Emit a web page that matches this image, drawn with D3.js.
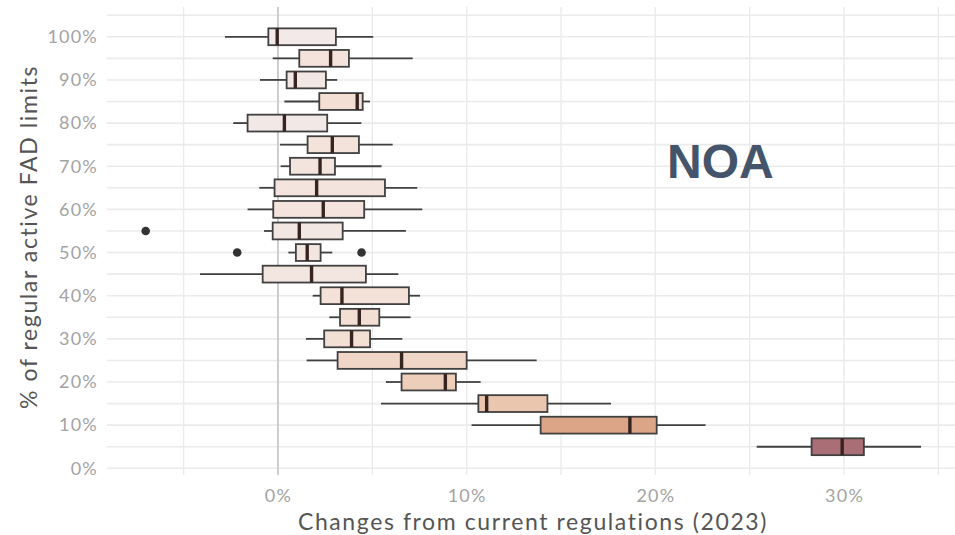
<!DOCTYPE html>
<html>
<head>
<meta charset="utf-8">
<script src="https://cdn.jsdelivr.net/npm/d3@7"></script>
<style>
  body { margin: 0; background: #fff; }
  svg { display: block; }
</style>
</head>
<body>
<div id="chart"></div>
<script>
// FAD limit level (% of regular active limits), one box per level
var levels = [100, 95, 90, 85, 80, 75, 70, 65, 60, 55, 50, 45, 40, 35, 30, 25, 20, 15, 10, 5];
var whiskerLow  = [-2.81, -0.28, -0.95, 0.34, -2.37, 0.11, 0.14, -0.99, -1.61, -0.74, 0.55, -4.13, 1.84, 2.72, 1.48, 1.52, 5.72, 5.46, 10.26, 25.37];
var q1          = [-0.51, 1.13, 0.46, 2.19, -1.61, 1.57, 0.64, -0.18, -0.25, -0.28, 0.95, -0.81, 2.26, 3.29, 2.45, 3.16, 6.55, 10.62, 13.92, 28.28];
var medians     = [-0.04, 2.79, 0.92, 4.20, 0.34, 2.88, 2.23, 2.05, 2.40, 1.13, 1.55, 1.78, 3.39, 4.31, 3.90, 6.55, 8.87, 11.06, 18.65, 29.90];
var q3          = [3.07, 3.76, 2.54, 4.49, 2.61, 4.29, 3.02, 5.67, 4.57, 3.43, 2.26, 4.66, 6.94, 5.37, 4.88, 10.00, 9.43, 14.28, 20.07, 31.05];
var whiskerHigh = [5.05, 7.14, 3.14, 4.88, 4.42, 6.08, 5.49, 7.38, 7.65, 6.78, 2.88, 6.38, 7.53, 7.03, 6.59, 13.71, 10.74, 17.65, 22.66, 34.08];
var outlierLevels = [55, 50, 50];
var outlierValues = [-7.01, -2.16, 4.43];

var xMajor = [0, 10, 20, 30];
var xMinor = [-5, 5, 15, 25, 35];
var yLabels = [0, 10, 20, 30, 40, 50, 60, 70, 80, 90, 100];
var yGrid = d3.range(0, 106, 5);

var svgWidth = 955;
var svgHeight = 535;

var margin = { top: 7, right: -7, bottom: 60, left: 107 };
var width = svgWidth - margin.left - margin.right;
var height = svgHeight - margin.top - margin.bottom;

var rows = levels.map(function(lv, i) {
  return { level: lv, lo: whiskerLow[i], q1: q1[i], med: medians[i], q3: q3[i], hi: whiskerHigh[i] };
});

var svg = d3.select("#chart")
  .append("svg")
  .attr("width", svgWidth)
  .attr("height", svgHeight);

var chart = svg.append("g")
  .attr("transform", `translate(${margin.left}, ${margin.top})`);

var x = d3.scaleLinear().domain([-9.06, 36.25]).range([0, width]);
var y = d3.scaleLinear().domain([-1.55, 106.9]).range([height, 0]);

var fill = d3.scaleLinear()
  .domain([0, 3, 11, 19, 30])
  .range(["#f2e9e8", "#f4e3da", "#ebc6af", "#dca386", "#a96e76"]);

// gridlines
chart.append("g")
  .selectAll("line.hgrid")
  .data(yGrid)
  .enter().append("line")
  .attr("x1", 0).attr("x2", width)
  .attr("y1", d => y(d)).attr("y2", d => y(d))
  .attr("stroke", "#ebebeb")
  .attr("stroke-width", 1.6);

chart.append("g")
  .selectAll("line.vgrid")
  .data(xMinor.concat(xMajor))
  .enter().append("line")
  .attr("x1", d => x(d)).attr("x2", d => x(d))
  .attr("y1", 0).attr("y2", height)
  .attr("stroke", "#ebebeb")
  .attr("stroke-width", 1.4);

// reference line at 0
chart.append("line")
  .attr("x1", x(0)).attr("x2", x(0))
  .attr("y1", 0).attr("y2", height)
  .attr("stroke", "#c4c4c4")
  .attr("stroke-width", 1.6);

// axes (labels only)
var bottomAxis = d3.axisBottom(x).tickValues(xMajor).tickSize(0).tickPadding(14)
  .tickFormat(d => d + "%");
var leftAxis = d3.axisLeft(y).tickValues(yLabels).tickSize(0).tickPadding(9)
  .tickFormat(d => d + "%");

var xa = chart.append("g")
  .attr("transform", `translate(0, ${height})`)
  .call(bottomAxis);
var ya = chart.append("g").call(leftAxis);

[xa, ya].forEach(function(g) {
  g.select(".domain").remove();
  g.selectAll("text")
    .attr("fill", "#a3a3a3")
    .style("font-family", "Lato, 'Open Sans', sans-serif")
    .style("font-size", "18px")
    .style("letter-spacing", "1.2px");
});

// boxplots
var half = 1.95;
var boxes = chart.selectAll("g.box")
  .data(rows)
  .enter().append("g")
  .attr("class", "box");

boxes.append("line")
  .attr("x1", d => x(d.lo)).attr("x2", d => x(d.q1))
  .attr("y1", d => y(d.level)).attr("y2", d => y(d.level))
  .attr("stroke", "#404040").attr("stroke-width", 1.8);

boxes.append("line")
  .attr("x1", d => x(d.q3)).attr("x2", d => x(d.hi))
  .attr("y1", d => y(d.level)).attr("y2", d => y(d.level))
  .attr("stroke", "#404040").attr("stroke-width", 1.8);

boxes.append("rect")
  .attr("x", d => x(d.q1))
  .attr("y", d => y(d.level + half))
  .attr("width", d => x(d.q3) - x(d.q1))
  .attr("height", d => y(d.level - half) - y(d.level + half))
  .attr("fill", d => fill(d.med))
  .attr("stroke", "#404040")
  .attr("stroke-width", 1.8);

boxes.append("line")
  .attr("x1", d => x(d.med)).attr("x2", d => x(d.med))
  .attr("y1", d => y(d.level + half)).attr("y2", d => y(d.level - half))
  .attr("stroke", "#35241f").attr("stroke-width", 3.4);

// outliers
chart.selectAll("circle")
  .data(outlierValues)
  .enter().append("circle")
  .attr("cx", d => x(d))
  .attr("cy", (d, i) => y(outlierLevels[i]))
  .attr("r", 4.3)
  .attr("fill", "#333");

// axis titles
svg.append("text")
  .attr("x", 533)
  .attr("y", 530)
  .attr("text-anchor", "middle")
  .attr("fill", "#555")
  .style("font-family", "Lato, 'Open Sans', sans-serif")
  .style("font-size", "23px")
  .style("letter-spacing", "1.6px")
  .text("Changes from current regulations (2023)");

svg.append("text")
  .attr("transform", "translate(37, 237) rotate(-90)")
  .attr("text-anchor", "middle")
  .attr("fill", "#555")
  .style("font-family", "Lato, 'Open Sans', sans-serif")
  .style("font-size", "23px")
  .style("letter-spacing", "1.6px")
  .text("% of regular active FAD limits");

// panel label
svg.append("text")
  .attr("x", 667)
  .attr("y", 178)
  .attr("fill", "#44546a")
  .style("font-family", "'Liberation Sans', Arial, sans-serif")
  .style("font-weight", "bold")
  .style("font-size", "48px")
  .text("NOA");
</script>
</body>
</html>
